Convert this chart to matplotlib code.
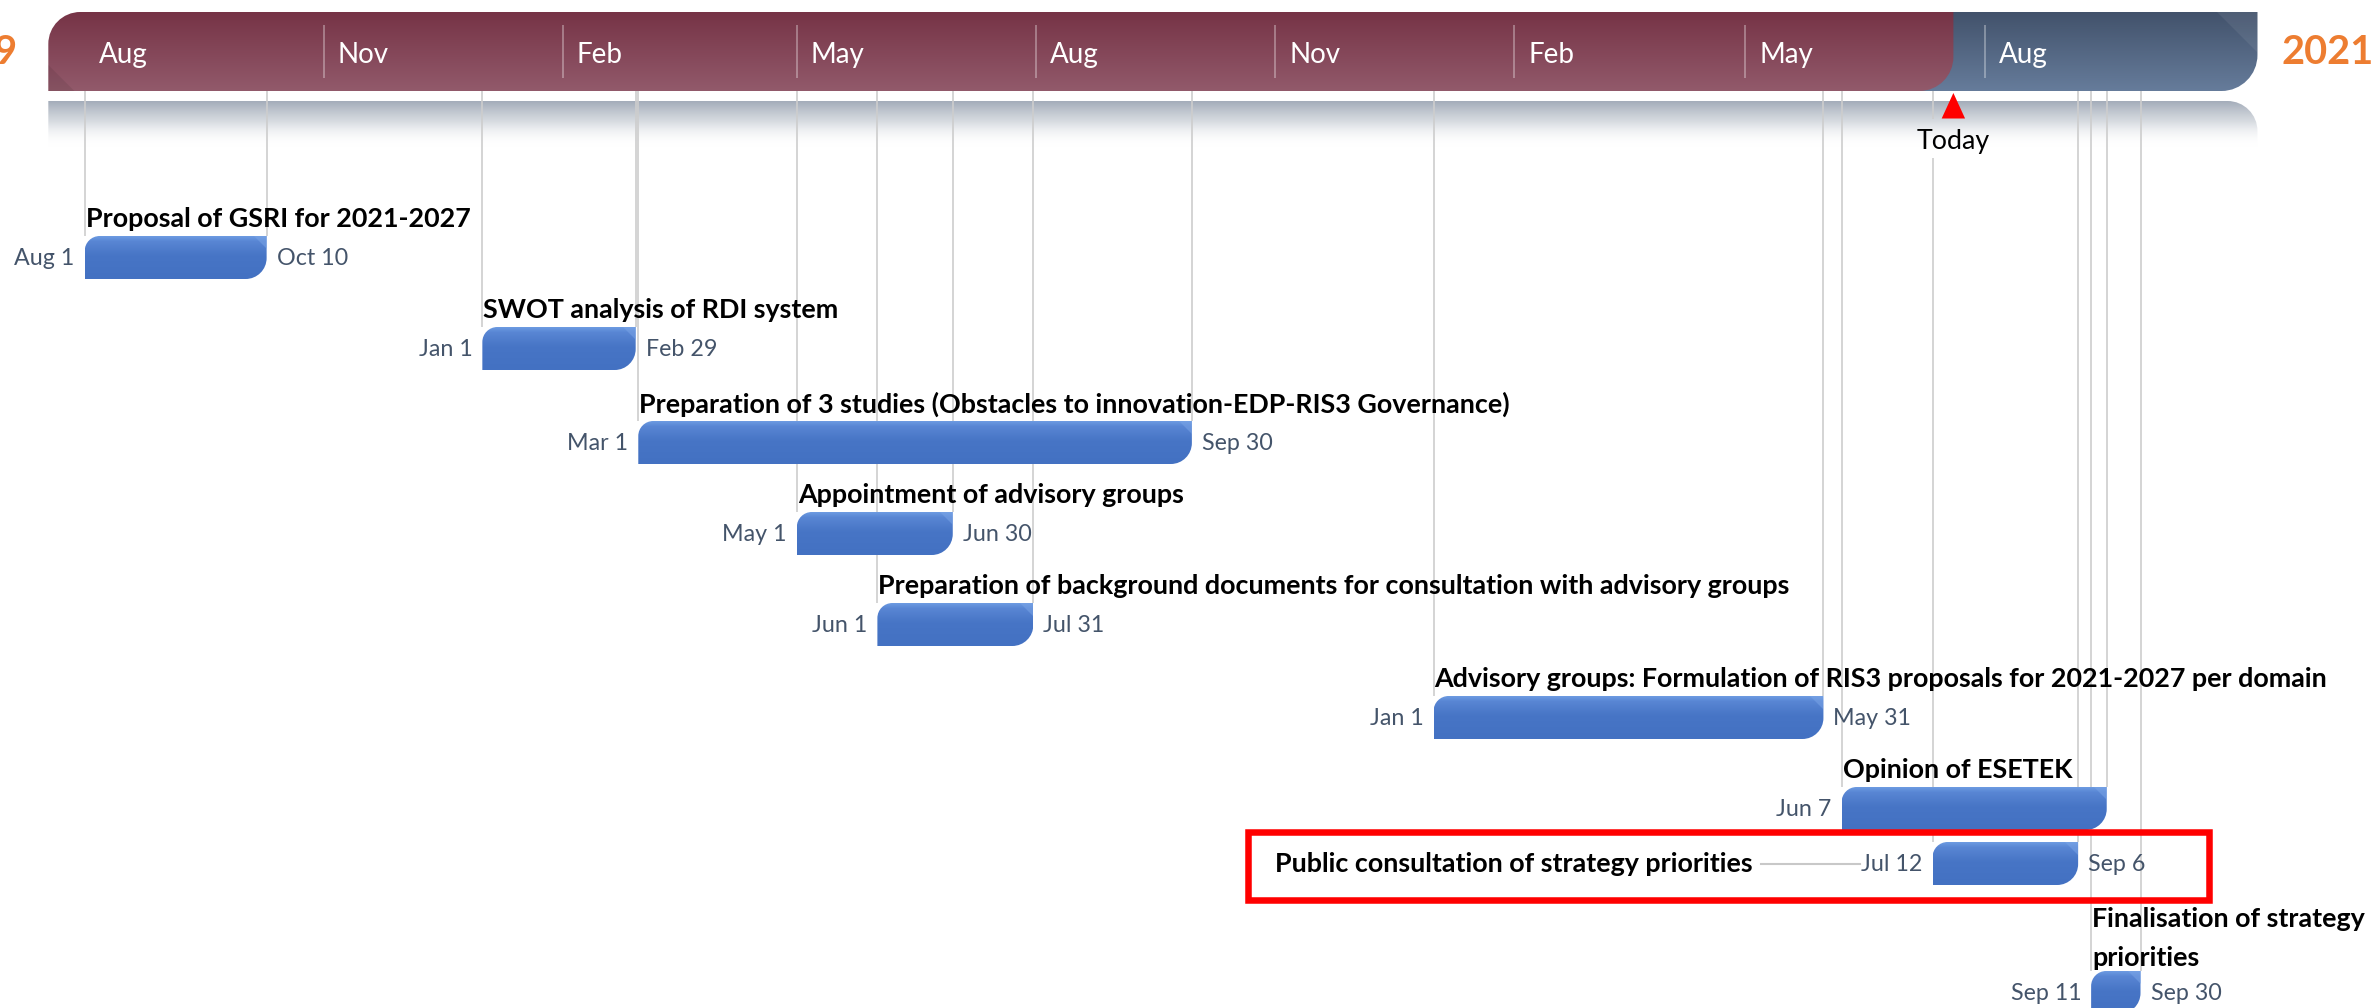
import datetime as dt
import numpy as np
import matplotlib
matplotlib.use("Agg")
import matplotlib.pyplot as plt
import matplotlib.dates as mdates
from matplotlib.path import Path
from matplotlib.patches import PathPatch, Polygon, Rectangle
from matplotlib.colors import to_rgb
from matplotlib.font_manager import FontProperties

# ------------------------------------------------------------------ data
task_names = [
    "Proposal of GSRI for 2021-2027",
    "SWOT analysis of RDI system",
    "Preparation of 3 studies (Obstacles to innovation-EDP-RIS3 Governance)",
    "Appointment of advisory groups",
    "Preparation of background documents for consultation with advisory groups",
    "Advisory groups: Formulation of RIS3 proposals for 2021-2027 per domain",
    "Opinion of ESETEK",
    "Public consultation of strategy priorities",
    "Finalisation of strategy\npriorities",
]
task_starts = ["2019-08-01", "2020-01-01", "2020-03-01", "2020-05-01", "2020-06-01",
               "2021-01-01", "2021-06-07", "2021-07-12", "2021-09-11"]
task_ends = ["2019-10-10", "2020-02-29", "2020-09-30", "2020-06-30", "2020-07-31",
             "2021-05-31", "2021-09-17", "2021-09-06", "2021-09-30"]
timeline_start = "2019-07-18"
timeline_end = "2021-11-14"
today = "2021-07-20"
quarter_ticks = ["2019-08-01", "2019-11-01", "2020-02-01", "2020-05-01", "2020-08-01",
                 "2020-11-01", "2021-02-01", "2021-05-01", "2021-08-01"]
quarter_labels = ["Aug", "Nov", "Feb", "May", "Aug", "Nov", "Feb", "May", "Aug"]
year_start_label = "2019"
year_end_label = "2021"
highlighted_task = "Public consultation of strategy priorities"

# ------------------------------------------------------------------ layout / style (pixels)
W, H = 2374, 1008
PX_PER_DAY = 2.599
ANCHOR_PX = 84.7            # pixel column of the first task start
ROW_TOP = [236, 327, 421, 512, 603, 696, 787, 842, 971]
BAR_H = 43
HEAD_TOP, HEAD_BOT = 12, 91
BAND_TOP, BAND_BOT = 101, 147
HIDE_END_LABEL = {"Opinion of ESETEK"}
FONT = ["Lato", "DejaVu Sans"]
LABEL_COLOR = "#44546A"
GRID_COLOR = "#CDCDCD"

plt.rcParams["font.family"] = FONT

def num(s):
    return mdates.date2num(dt.datetime.strptime(s, "%Y-%m-%d"))

def fmt(s):
    d = dt.datetime.strptime(s, "%Y-%m-%d")
    return f"{d:%b} {d.day}"

def dx(px):
    return px / PX_PER_DAY

fig = plt.figure(figsize=(W / 100, H / 100), dpi=100)
ax = fig.add_axes([0, 0, 1, 1])
ax.set_axis_off()
XMIN = num(task_starts[0]) - dx(ANCHOR_PX)
XMAX = XMIN + dx(W)
renderer = fig.canvas.get_renderer()

def xpx(x):
    return (x - XMIN) * PX_PER_DAY

def text_w(s, **kw):
    t = fig.text(0, 0, s, **kw)
    w = t.get_window_extent(renderer).width
    t.remove()
    return w

def fit(s, target, **kw):
    return 20 * target / text_w(s, fontsize=20, **kw)

FS_TITLE = fit("Advisory groups: Formulation of RIS3 proposals for 2021-2027 per domain", 896, fontweight="bold")
FS_DATE = fit("May 31", 78, fontweight="normal")
FS_MONTH = fit("Nov", 51, fontweight="normal")
FS_TODAY = fit("Today", 73, fontweight="normal")
FS_YEAR = fit("2021", 92, fontweight="bold")

_, lp_h, lp_d = renderer.get_text_width_height_descent(
    "lp", FontProperties(family=FONT, weight="bold", size=FS_TITLE), ismath=False)
TITLE_LINESPACING = 35 / (lp_h - lp_d)

K = 0.5523

def shape_path(x0, x1, y0, y1, tl=0, tr=0, br=0, bl=0):
    """Rounded box: x in days, y in pixels (down). Radii in pixels."""
    V, C = [], []
    rtl, rtr, rbr, rbl = (dx(tl), tl), (dx(tr), tr), (dx(br), br), (dx(bl), bl)
    V.append((x0 + rtl[0], y0)); C.append(Path.MOVETO)
    V.append((x1 - rtr[0], y0)); C.append(Path.LINETO)
    if tr:
        V += [(x1 - rtr[0] * (1 - K), y0), (x1, y0 + rtr[1] * (1 - K)), (x1, y0 + rtr[1])]
        C += [Path.CURVE4] * 3
    V.append((x1, y1 - rbr[1])); C.append(Path.LINETO)
    if br:
        V += [(x1, y1 - rbr[1] * (1 - K)), (x1 - rbr[0] * (1 - K), y1), (x1 - rbr[0], y1)]
        C += [Path.CURVE4] * 3
    V.append((x0 + rbl[0], y1)); C.append(Path.LINETO)
    if bl:
        V += [(x0 + rbl[0] * (1 - K), y1), (x0, y1 - rbl[1] * (1 - K)), (x0, y1 - rbl[1])]
        C += [Path.CURVE4] * 3
    V.append((x0, y0 + rtl[1])); C.append(Path.LINETO)
    if tl:
        V += [(x0, y0 + rtl[1] * (1 - K)), (x0 + rtl[0] * (1 - K), y0), (x0 + rtl[0], y0)]
        C += [Path.CURVE4] * 3
    V.append((x0, y0)); C.append(Path.CLOSEPOLY)
    return Path(V, C)

def gradient(path, x0, x1, y0, y1, stops, z):
    patch = PathPatch(path, facecolor="none", edgecolor="none", zorder=z)
    ax.add_patch(patch)
    t = np.linspace(0, 1, 200)
    pos = [s[0] for s in stops]
    cols = np.array([list(to_rgb(s[1])) + [s[2] if len(s) > 2 else 1.0] for s in stops])
    arr = np.stack([np.interp(t, pos, cols[:, k]) for k in range(4)], axis=1)
    img = ax.imshow(arr[:, None, :], extent=[x0, x1, y1, y0], aspect="auto",
                    origin="upper", zorder=z, interpolation="bilinear")
    img.set_clip_path(patch)
    return patch

# ------------------------------------------------------------------ header
ts, te, td = num(timeline_start), num(timeline_end), num(today)
blue = shape_path(td - dx(60), te, HEAD_TOP, HEAD_BOT, br=36)
gradient(blue, td - dx(60), te, HEAD_TOP, HEAD_BOT,
         [(0, "#42526B"), (1, "#667C9B")], 2.0)
ax.add_patch(Polygon([(te - dx(40), HEAD_TOP), (te, HEAD_TOP), (te, HEAD_TOP + 40)],
                     closed=True, facecolor="white", alpha=0.07, edgecolor="none", zorder=2.05))
maroon = shape_path(ts, td, HEAD_TOP, HEAD_BOT, tl=32, br=34)
gradient(maroon, ts, td, HEAD_TOP, HEAD_BOT,
         [(0, "#763346"), (1, "#925A6B")], 2.1)
ax.add_patch(Polygon([(ts, HEAD_BOT), (ts, HEAD_BOT - 26), (ts + dx(26), HEAD_BOT)],
                     closed=True, facecolor="black", alpha=0.08, edgecolor="none", zorder=2.15))

for i, (tk, lab) in enumerate(zip(quarter_ticks, quarter_labels)):
    x = num(tk)
    if i > 0:
        ax.plot([x, x], [25, 78], color="white", alpha=0.35, lw=1.3, zorder=2.2,
                solid_capstyle="butt")
    ax.text(x + dx(14), 55, lab, color="white", fontsize=FS_MONTH, ha="left",
            va="center", zorder=2.3)

ax.text(ts - dx(31), 52, year_start_label, color="#ED7D31", fontsize=FS_YEAR,
        fontweight="bold", ha="right", va="center")
ax.text(te + dx(24), 52, year_end_label, color="#ED7D31", fontsize=FS_YEAR,
        fontweight="bold", ha="left", va="center")

# reflection band
band = shape_path(ts, te, BAND_TOP, BAND_BOT, tr=30)
gradient(band, ts, te, BAND_TOP, BAND_BOT,
         [(0, "#A3ACB9", 1.0), (0.45, "#B8BFC9", 0.55), (1, "#FFFFFF", 0.0)], 1.5)

# today marker
ax.add_patch(Polygon([(td, 93), (td - dx(11.7), 118.5), (td + dx(11.7), 118.5)],
                     closed=True, facecolor="#FF0000", edgecolor="none", zorder=5))
ax.text(td, 141, "Today", fontsize=FS_TODAY, color="black",
        ha="center", va="center", zorder=5)
tw = text_w("Today", fontsize=FS_TODAY)
gap_lo, gap_hi = td - dx(tw / 2 + 2), td + dx(tw / 2 + 2)

# ------------------------------------------------------------------ grid lines
for name, s, e, top in zip(task_names, task_starts, task_ends, ROW_TOP):
    for d in (num(s), num(e)):
        if gap_lo <= d <= gap_hi:
            segs = [(HEAD_BOT, 118.5), (158, top)]
        else:
            segs = [(HEAD_BOT, top)]
        for a, b in segs:
            ax.plot([d, d], [a, b], color=GRID_COLOR, lw=1.2, zorder=2.5,
                    solid_capstyle="butt")

# ------------------------------------------------------------------ task bars
for name, s, e, top in zip(task_names, task_starts, task_ends, ROW_TOP):
    x0, x1 = num(s), num(e)
    y0, y1 = top, top + BAR_H
    p = shape_path(x0, x1, y0, y1, tl=15, br=21)
    gradient(p, x0, x1, y0, y1,
             [(0, "#6D9BE2"), (0.12, "#5986D4"), (0.45, "#4775C6"), (1, "#4371C2")], 3)
    ax.add_patch(Polygon([(x1 - dx(13), y0), (x1, y0), (x1, y0 + 13)], closed=True,
                         facecolor="#7AA4E6", alpha=0.55, edgecolor="none", zorder=3.1))
    ymid = top + BAR_H / 2 + 1
    ax.text(x0 - dx(10), ymid, fmt(s), color=LABEL_COLOR, fontsize=FS_DATE,
            ha="right", va="center", zorder=6)
    if name not in HIDE_END_LABEL:
        ax.text(x1 + dx(10), ymid, fmt(e), color=LABEL_COLOR, fontsize=FS_DATE,
                ha="left", va="center", zorder=6)

    if name == highlighted_task:
        lab_left = xpx(x0) - 10 - text_w(fmt(s), fontsize=FS_DATE)
        ax.plot([XMIN + dx(lab_left - 100), XMIN + dx(lab_left - 1)], [ymid - 1, ymid - 1],
                color="#C8C8C8", lw=1.5, zorder=2.6)
        title_right = lab_left - 109
        ax.text(XMIN + dx(title_right), ymid - 1, name, fontsize=FS_TITLE,
                fontweight="bold", color="black", ha="right", va="center", zorder=6)
        title_left = title_right - text_w(name, fontsize=FS_TITLE, fontweight="bold")
        end_right = xpx(x1) + 10 + text_w(fmt(e), fontsize=FS_DATE)
        rx0, rx1 = title_left - 27, end_right + 63
        ax.add_patch(Rectangle((XMIN + dx(rx0), y0 - 10.5), dx(rx1 - rx0), BAR_H + 25,
                               facecolor="none", edgecolor="#FF0000", lw=4.7, zorder=7))
    else:
        nlines = name.count("\n") + 1
        ax.text(x0 + dx(1), top - 17 - (nlines - 1) * 15.5, name, fontsize=FS_TITLE,
                fontweight="bold", color="black", ha="left", va="center",
                linespacing=TITLE_LINESPACING, zorder=6)

ax.set_xlim(XMIN, XMAX)
ax.set_ylim(H, 0)
fig.savefig("out.png", dpi=100, facecolor="white")
